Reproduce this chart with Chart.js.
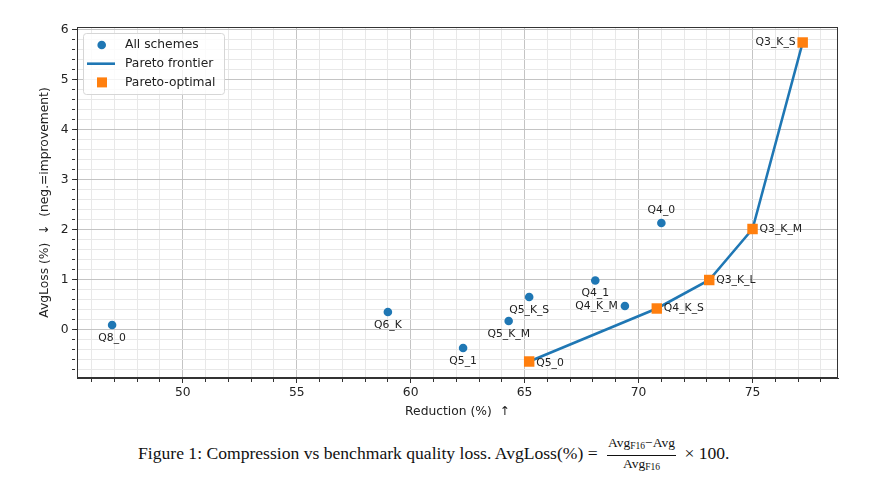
<!DOCTYPE html>
<html>
<head>
<meta charset="utf-8">
<script src="https://cdn.jsdelivr.net/npm/chart.js@4"></script>
<style>
  html, body { margin: 0; padding: 0; background: #fff; }
  #wrap { position: relative; width: 889px; height: 487px; }
  #chart { position: absolute; left: 0; top: 0; }
  #caption {
    position: absolute; left: 138px; top: 435px; white-space: nowrap;
    font-family: 'Liberation Serif', 'Times New Roman', serif; font-size: 17.6px; color: #111;
  }
  .frac { display: inline-block; vertical-align: middle; text-align: center; font-size: 13.5px; line-height: 15px; margin: 0 4px 0 5px; }
  .frac .num { display: block; border-bottom: 0.9px solid #111; padding: 0 1px 1px; }
  .frac .den { display: block; }
  .frac sub { font-size: 9.5px; vertical-align: -2px; }
</style>
</head>
<body>
<div id="wrap">
  <canvas id="chart" width="889" height="430"></canvas>
  <div id="caption">Figure 1: Compression vs benchmark quality loss. AvgLoss(%) = <span class="frac"><span class="num">Avg<sub>F16</sub>−Avg</span><span class="den">Avg<sub>F16</sub></span></span> × 100.</div>
</div>
<script>
// quantisation schemes
const schemes = ['Q8_0', 'Q6_K', 'Q5_1', 'Q5_K_M', 'Q5_K_S', 'Q5_0', 'Q4_1', 'Q4_K_M', 'Q4_0', 'Q4_K_S', 'Q3_K_L', 'Q3_K_M', 'Q3_K_S'];
const reduction = [46.9, 59.0, 62.3, 64.3, 65.2, 65.2, 68.1, 69.4, 71.0, 70.8, 73.1, 75.0, 77.2];
const avgLoss = [0.09, 0.35, -0.37, 0.17, 0.65, -0.64, 0.98, 0.47, 2.13, 0.42, 0.99, 2.01, 5.74];
const paretoSchemes = ['Q5_0', 'Q4_K_S', 'Q3_K_L', 'Q3_K_M', 'Q3_K_S'];

const xMajorTicks = [50, 55, 60, 65, 70, 75];
const yMajorTicks = [0, 1, 2, 3, 4, 5, 6];

// where each annotation sits relative to its point
const labelSide = {
  Q8_0: 'below', Q6_K: 'below', Q5_1: 'below', Q5_K_M: 'below', Q5_K_S: 'below',
  Q5_0: 'right', Q4_1: 'below', Q4_K_M: 'left', Q4_0: 'above', Q4_K_S: 'right',
  Q3_K_L: 'right', Q3_K_M: 'right', Q3_K_S: 'left'
};

const BLUE = '#1f77b4';
const ORANGE = '#ff7f0e';
const FONT = "'DejaVu Sans', sans-serif";

const allPoints = schemes.map((s, i) => ({ x: reduction[i], y: avgLoss[i] }));
const paretoPoints = paretoSchemes.map(s => {
  const i = schemes.indexOf(s);
  return { x: reduction[i], y: avgLoss[i] };
});

const isMajor = (v, list) => list.some(m => Math.abs(m - v) < 1e-6);

const frame = {
  id: 'frame',
  afterDatasetsDraw(chart) {
    const { ctx, chartArea: a } = chart;
    ctx.save();
    ctx.strokeStyle = '#333';
    ctx.lineWidth = 1;
    ctx.strokeRect(Math.round(a.left) + 0.5, Math.round(a.top) + 0.5,
      Math.round(a.right - a.left) - 1, Math.round(a.bottom - a.top) - 1);
    ctx.restore();
  }
};

const pointLabels = {
  id: 'pointLabels',
  afterDatasetsDraw(chart) {
    const { ctx, scales } = chart;
    ctx.save();
    ctx.font = '10.8px ' + FONT;
    ctx.fillStyle = '#222';
    schemes.forEach((s, i) => {
      const px = scales.x.getPixelForValue(reduction[i]);
      const py = scales.y.getPixelForValue(avgLoss[i]);
      const side = labelSide[s];
      if (side === 'below') {
        ctx.textAlign = 'center'; ctx.textBaseline = 'middle';
        ctx.fillText(s, px, py + 13);
      } else if (side === 'above') {
        ctx.textAlign = 'center'; ctx.textBaseline = 'middle';
        ctx.fillText(s, px, py - 13);
      } else if (side === 'left') {
        ctx.textAlign = 'right'; ctx.textBaseline = 'middle';
        ctx.fillText(s, px - 7, py);
      } else {
        ctx.textAlign = 'left'; ctx.textBaseline = 'middle';
        ctx.fillText(s, px + 7, py + (s === 'Q5_0' ? 1.5 : 0));
      }
    });
    ctx.restore();
  }
};

const boxLegend = {
  id: 'boxLegend',
  afterDatasetsDraw(chart) {
    const { ctx } = chart;
    const x0 = 83, y0 = 33, w = 141, h = 61, r = 3;
    ctx.save();
    ctx.beginPath();
    ctx.roundRect(x0 + 0.5, y0 + 0.5, w, h, r);
    ctx.fillStyle = 'rgba(255,255,255,0.8)';
    ctx.fill();
    ctx.strokeStyle = '#d6d6d6';
    ctx.lineWidth = 1;
    ctx.stroke();

    ctx.font = '12.3px ' + FONT;
    ctx.fillStyle = '#222';
    ctx.textAlign = 'left';
    ctx.textBaseline = 'middle';
    chart.data.datasets.forEach((ds, k) => {
      const cy = 45 + k * 18.7;
      if (ds.showLine) {
        ctx.strokeStyle = ds.borderColor;
        ctx.lineWidth = ds.borderWidth;
        ctx.beginPath();
        ctx.moveTo(87, cy);
        ctx.lineTo(115, cy);
        ctx.stroke();
      } else if (ds.pointStyle === 'rect') {
        ctx.fillStyle = ds.backgroundColor;
        ctx.fillRect(97, cy - 5, 10, 10);
      } else {
        ctx.fillStyle = ds.backgroundColor;
        ctx.beginPath();
        ctx.arc(101.7, cy, 4.3, 0, Math.PI * 2);
        ctx.fill();
      }
      ctx.fillStyle = '#222';
      ctx.fillText(ds.label, 125, cy);
    });
    ctx.restore();
  }
};

new Chart(document.getElementById('chart'), {
  type: 'scatter',
  data: {
    datasets: [
      {
        label: 'All schemes',
        data: allPoints,
        backgroundColor: BLUE,
        borderColor: BLUE,
        pointRadius: 4.3,
        pointHoverRadius: 4.3,
        borderWidth: 0,
        order: 2
      },
      {
        label: 'Pareto frontier',
        data: paretoPoints,
        showLine: true,
        borderColor: BLUE,
        backgroundColor: BLUE,
        borderWidth: 2.6,
        pointRadius: 0,
        pointHoverRadius: 0,
        order: 1
      },
      {
        label: 'Pareto-optimal',
        data: paretoPoints,
        pointStyle: 'rect',
        backgroundColor: ORANGE,
        borderColor: ORANGE,
        borderWidth: 0,
        pointRadius: 7.4,
        pointHoverRadius: 7.4,
        order: 0
      }
    ]
  },
  options: {
    responsive: false,
    animation: false,
    devicePixelRatio: 1,
    layout: { padding: { top: 27, right: 51, bottom: 10.6, left: 37.6 } },
    plugins: {
      legend: { display: false },
      tooltip: { enabled: false }
    },
    scales: {
      x: {
        type: 'linear',
        min: 45.36,
        max: 78.75,
        afterFit: (scale) => { scale.height = 41.4; },
        ticks: {
          stepSize: 1,
          includeBounds: false,
          autoSkip: false,
          maxRotation: 0,
          padding: 2,
          color: '#222',
          font: { family: FONT, size: 12.3 },
          callback: (v) => isMajor(v, xMajorTicks) ? String(v) : ''
        },
        grid: {
          color: (c) => isMajor(c.tick.value, xMajorTicks) ? '#c4c4c4' : '#e8e8e8',
          lineWidth: 1,
          tickLength: 5,
          tickColor: '#333',
          tickBorderDash: (c) => isMajor(c.tick.value, xMajorTicks) ? [] : [3, 20]
        },
        border: { display: true, color: '#333', width: 1 },
        title: {
          display: true,
          text: 'Reduction (%)  ↑',
          color: '#222',
          padding: 0,
          font: { family: FONT, size: 12.3 }
        }
      },
      y: {
        type: 'linear',
        min: -0.97,
        max: 6.05,
        afterFit: (scale) => { scale.width = 39.4; },
        ticks: {
          stepSize: 0.2,
          includeBounds: false,
          autoSkip: false,
          padding: 3.5,
          color: '#222',
          font: { family: FONT, size: 12.3 },
          callback: (v) => isMajor(v, yMajorTicks) ? String(Math.round(v)) : ''
        },
        grid: {
          color: (c) => isMajor(c.tick.value, yMajorTicks) ? '#c4c4c4' : '#e8e8e8',
          lineWidth: 1,
          tickLength: 5,
          tickColor: '#333',
          tickBorderDash: (c) => isMajor(c.tick.value, yMajorTicks) ? [] : [3, 20]
        },
        border: { display: true, color: '#333', width: 1 },
        title: {
          display: true,
          text: 'AvgLoss (%)  ↓  (neg.=improvement)',
          color: '#222',
          padding: 0,
          font: { family: FONT, size: 12.3 }
        }
      }
    }
  },
  plugins: [frame, pointLabels, boxLegend]
});
</script>
</body>
</html>
